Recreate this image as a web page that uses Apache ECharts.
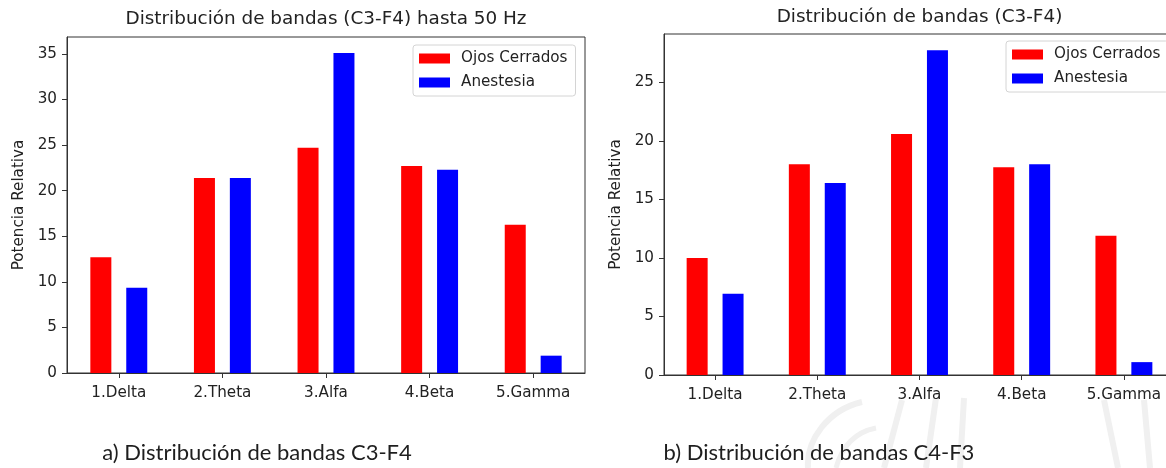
<!DOCTYPE html>
<html>
<head>
<meta charset="utf-8">
<script src="https://cdn.jsdelivr.net/npm/echarts@6/dist/echarts.min.js"></script>
<style>
  html, body { margin: 0; padding: 0; background: #fff; overflow: hidden; width: 1166px; height: 468px; }
  #chart { width: 1180px; height: 468px; }
</style>
</head>
<body>
<div id="chart"></div>
<script>
// Relative band power per EEG band, two recording conditions
const categories = ['1.Delta', '2.Theta', '3.Alfa', '4.Beta', '5.Gamma'];
const seriesNames = ['Ojos Cerrados', 'Anestesia'];
const ojosC3F4 = [12.7, 21.4, 24.7, 22.7, 16.25];
const anestesiaC3F4 = [9.35, 21.4, 35.1, 22.3, 1.9];
const ojosC4F3 = [10.0, 18.0, 20.6, 17.75, 11.9];
const anestesiaC4F3 = [6.95, 16.4, 27.75, 18.0, 1.1];
const yTicksLeft = [0, 5, 10, 15, 20, 25, 30, 35];
const yTicksRight = [0, 5, 10, 15, 20, 25];
const panelTitles = ['Distribución de bandas (C3-F4) hasta 50 Hz', 'Distribución de bandas (C3-F4)'];
const captions = ['a) Distribución de bandas C3-F4', 'b) Distribución de bandas C4-F3'];
const yAxisName = 'Potencia Relativa';

const RED = '#ff0000';
const BLUE = '#0000ff';
const INK = '#222222';
const AXIS = '#333333';
const FONT = 'DejaVu Sans';
const LABEL_SIZE = 15.2;

const grids = [
  { left: 67, top: 37, width: 518, height: 336 },
  { left: 664, top: 34, width: 511, height: 341 }
];
const tickSets = [yTicksLeft, yTicksRight];
const panelData = [[ojosC3F4, anestesiaC3F4], [ojosC4F3, anestesiaC4F3]];

const chart = echarts.init(document.getElementById('chart'), null, { renderer: 'canvas' });

const xAxes = grids.map((g, i) => ({
  type: 'category',
  gridIndex: i,
  data: categories,
  boundaryGap: true,
  axisLine: { show: true, lineStyle: { color: AXIS, width: 1 } },
  axisTick: { show: true, alignWithLabel: true, length: 5, lineStyle: { color: AXIS } },
  axisLabel: { fontFamily: FONT, fontSize: LABEL_SIZE, color: INK, margin: 13 },
  splitLine: { show: false }
}));

const yAxes = grids.map((g, i) => ({
  type: 'value',
  gridIndex: i,
  min: 0,
  // matplotlib-style 5% headroom above the tallest bar
  max: v => v.max * 1.05,
  interval: 5,
  name: yAxisName,
  nameLocation: 'middle',
  nameGap: 40,
  nameTextStyle: { fontFamily: FONT, fontSize: LABEL_SIZE, color: INK },
  axisLine: { show: true, lineStyle: { color: AXIS, width: 1 } },
  axisTick: { show: true, length: 5, lineStyle: { color: AXIS }, customValues: tickSets[i] },
  axisLabel: { fontFamily: FONT, fontSize: LABEL_SIZE, color: INK, margin: 10, customValues: tickSets[i] },
  splitLine: { show: false }
}));

const series = [];
panelData.forEach((pair, i) => {
  pair.forEach((vals, k) => {
    series.push({
      type: 'bar',
      name: seriesNames[k],
      xAxisIndex: i,
      yAxisIndex: i,
      data: vals,
      barWidth: 21,
      barGap: '71%',
      itemStyle: { color: k === 0 ? RED : BLUE },
      emphasis: { disabled: true }
    });
  });
});

const legendBase = {
  orient: 'vertical',
  data: seriesNames,
  icon: 'rect',
  itemWidth: 31,
  itemHeight: 10,
  itemGap: 9,
  padding: [6, 8, 6, 6],
  backgroundColor: 'rgba(255,255,255,0.85)',
  borderColor: '#d4d4d4',
  borderWidth: 1,
  borderRadius: 3,
  selectedMode: false,
  textStyle: { fontFamily: FONT, fontSize: LABEL_SIZE, color: INK, padding: [0, 0, 0, 6] }
};

const textEl = (text, x, y, font, fill) => ({
  type: 'text', x, y, silent: true,
  style: { text, font, fill, textAlign: 'center', textVerticalAlign: 'middle' }
});

// faint strokes of the page watermark behind the right caption
const wmStyle = w => ({ fill: null, stroke: '#f0f0f0', lineWidth: w });
const wmLine = (x1, y1, x2, y2, w) => ({
  type: 'line', silent: true, z: -10, shape: { x1, y1, x2, y2 }, style: wmStyle(w)
});
const wmCurve = (x1, y1, cpx1, cpy1, cpx2, cpy2, x2, y2, w) => ({
  type: 'bezierCurve', silent: true, z: -10,
  shape: { x1, y1, cpx1, cpy1, cpx2, cpy2, x2, y2 }, style: wmStyle(w)
});

const graphics = [
  wmCurve(808, 468, 806, 440, 828, 410, 862, 402, 6),
  wmCurve(836, 468, 842, 446, 856, 432, 876, 428, 5),
  wmLine(884, 468, 902, 400, 6),
  wmLine(926, 468, 936, 398, 6),
  wmLine(960, 468, 964, 398, 6),
  wmLine(1104, 400, 1118, 468, 6),
  wmLine(1144, 400, 1150, 468, 6),
  textEl(panelTitles[0], grids[0].left + grids[0].width / 2, 19, '18.4px "DejaVu Sans"', INK),
  textEl(panelTitles[1], grids[1].left + grids[1].width / 2, 17, '18.4px "DejaVu Sans"', INK),
  textEl(captions[0], 257, 453, '22px Lato', '#1e1e1e'),
  textEl(captions[1], 819, 453, '22px Lato', '#1e1e1e')
];

chart.setOption({
  animation: false,
  backgroundColor: '#ffffff',
  grid: grids.map(g => Object.assign({ show: true, borderColor: AXIS, borderWidth: 1, backgroundColor: 'transparent', containLabel: false }, g)),
  xAxis: xAxes,
  yAxis: yAxes,
  legend: [
    Object.assign({ left: 413, top: 45 }, legendBase),
    Object.assign({ left: 1006, top: 41 }, legendBase)
  ],
  series,
  graphic: graphics
});
</script>
</body>
</html>
